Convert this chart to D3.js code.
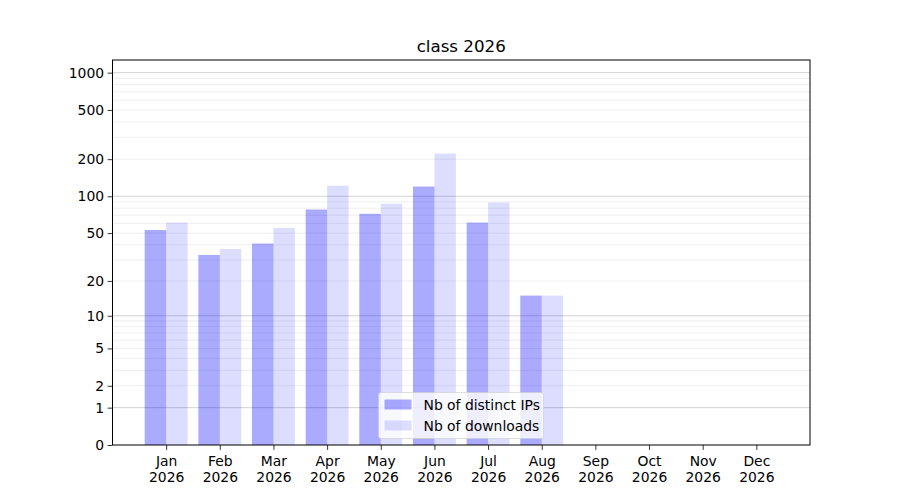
<!DOCTYPE html>
<html>
<head>
<meta charset="utf-8">
<script src="https://cdn.jsdelivr.net/npm/d3@7"></script>
<style>
  body { margin: 0; background: #fff; }
  svg { font-family: "DejaVu Sans", sans-serif; }
</style>
</head>
<body>
<div id="chart"></div>
<script>
// chart data
var months = ["Jan", "Feb", "Mar", "Apr", "May", "Jun", "Jul", "Aug", "Sep", "Oct", "Nov", "Dec"];
var year = "2026";
var distinctIPs = [53, 33, 41, 78, 72, 120, 61, 15];
var downloads = [61, 37, 55, 122, 87, 222, 89, 15];
var yTicks = [0, 1, 2, 5, 10, 20, 50, 100, 200, 500, 1000];
var majorGrid = [1, 10, 100, 1000];
var minorGrid = [2, 3, 4, 5, 6, 7, 8, 9, 20, 30, 40, 50, 60, 70, 80, 90, 200, 300, 400, 500, 600, 700, 800, 900];

var width = 900, height = 500;
var plotLeft = 112.5, plotRight = 810, plotTop = 60, plotBottom = 445;

var svg = d3.select("#chart").append("svg")
  .attr("width", width)
  .attr("height", height);

var x = d3.scaleLinear().domain([-1, 12]).range([plotLeft, plotRight]);
var y = d3.scaleSymlog().constant(1).domain([0, 1265]).range([plotBottom, plotTop]);
var barW = x(0.4) - x(0);

// grid
svg.append("g").selectAll("line").data(minorGrid).enter().append("line")
  .attr("x1", plotLeft).attr("x2", plotRight)
  .attr("y1", function(d) { return y(d); }).attr("y2", function(d) { return y(d); })
  .style("stroke", "#ebebeb").style("stroke-width", 0.8);
svg.append("g").selectAll("line").data(majorGrid).enter().append("line")
  .attr("x1", plotLeft).attr("x2", plotRight)
  .attr("y1", function(d) { return y(d); }).attr("y2", function(d) { return y(d); })
  .style("stroke", "#c8c8c8").style("stroke-width", 0.8);

// bars
svg.append("g").selectAll("rect").data(distinctIPs).enter().append("rect")
  .attr("x", function(d, i) { return x(i) - barW; })
  .attr("y", function(d) { return y(d); })
  .attr("width", barW)
  .attr("height", function(d) { return plotBottom - y(d); })
  .style("fill", "#0000ff").style("fill-opacity", 0.333);
svg.append("g").selectAll("rect").data(downloads).enter().append("rect")
  .attr("x", function(d, i) { return x(i); })
  .attr("y", function(d) { return y(d); })
  .attr("width", barW)
  .attr("height", function(d) { return plotBottom - y(d); })
  .style("fill", "#0000ff").style("fill-opacity", 0.135);

// axes
var yAxis = d3.axisLeft(y).tickValues(yTicks).tickSize(4.9).tickPadding(3.5).tickFormat(d3.format("d"));
var gy = svg.append("g").attr("transform", "translate(" + plotLeft + ",0)").call(yAxis);
gy.select(".domain").remove();

var xAxis = d3.axisBottom(x).tickValues(d3.range(12)).tickSize(4.9).tickPadding(3.5).tickFormat("");
var gx = svg.append("g").attr("transform", "translate(0," + plotBottom + ")").call(xAxis);
gx.select(".domain").remove();
gx.selectAll(".tick").append("text")
  .attr("fill", "#000")
  .attr("text-anchor", "middle")
  .selectAll("tspan").data(function(d) { return [months[d], year]; }).enter().append("tspan")
  .attr("x", 0)
  .attr("y", function(d, i) { return 21 + i * 16; })
  .text(function(d) { return d; });

svg.selectAll(".tick text").style("font-size", "13.9px").style("font-family", "DejaVu Sans, sans-serif");
svg.selectAll(".tick line").style("stroke", "#000").style("stroke-width", 0.8);

// frame
svg.append("rect")
  .attr("x", plotLeft).attr("y", plotTop)
  .attr("width", plotRight - plotLeft).attr("height", plotBottom - plotTop)
  .style("fill", "none").style("stroke", "#000").style("stroke-width", 1);

// title
svg.append("text")
  .attr("x", (plotLeft + plotRight) / 2).attr("y", 52)
  .attr("text-anchor", "middle")
  .style("font-size", "16.7px")
  .text("class 2026");

// legend
var legendItems = [
  { label: "Nb of distinct IPs", opacity: 0.333 },
  { label: "Nb of downloads", opacity: 0.135 }
];
var lg = svg.append("g").attr("transform", "translate(378.5,392.5)");
lg.append("rect")
  .attr("width", 165).attr("height", 46).attr("rx", 2.5)
  .style("fill", "#fff").style("fill-opacity", 0.8)
  .style("stroke", "#cccccc").style("stroke-opacity", 0.8).style("stroke-width", 0.8);
var item = lg.selectAll(".item").data(legendItems).enter().append("g")
  .attr("transform", function(d, i) { return "translate(6," + (7 + i * 21) + ")"; });
item.append("rect")
  .attr("width", 27).attr("height", 10)
  .style("fill", "#0000ff").style("fill-opacity", function(d) { return d.opacity; });
item.append("text")
  .attr("x", 39).attr("y", 10.5)
  .style("font-size", "13.9px")
  .text(function(d) { return d.label; });
</script>
</body>
</html>
